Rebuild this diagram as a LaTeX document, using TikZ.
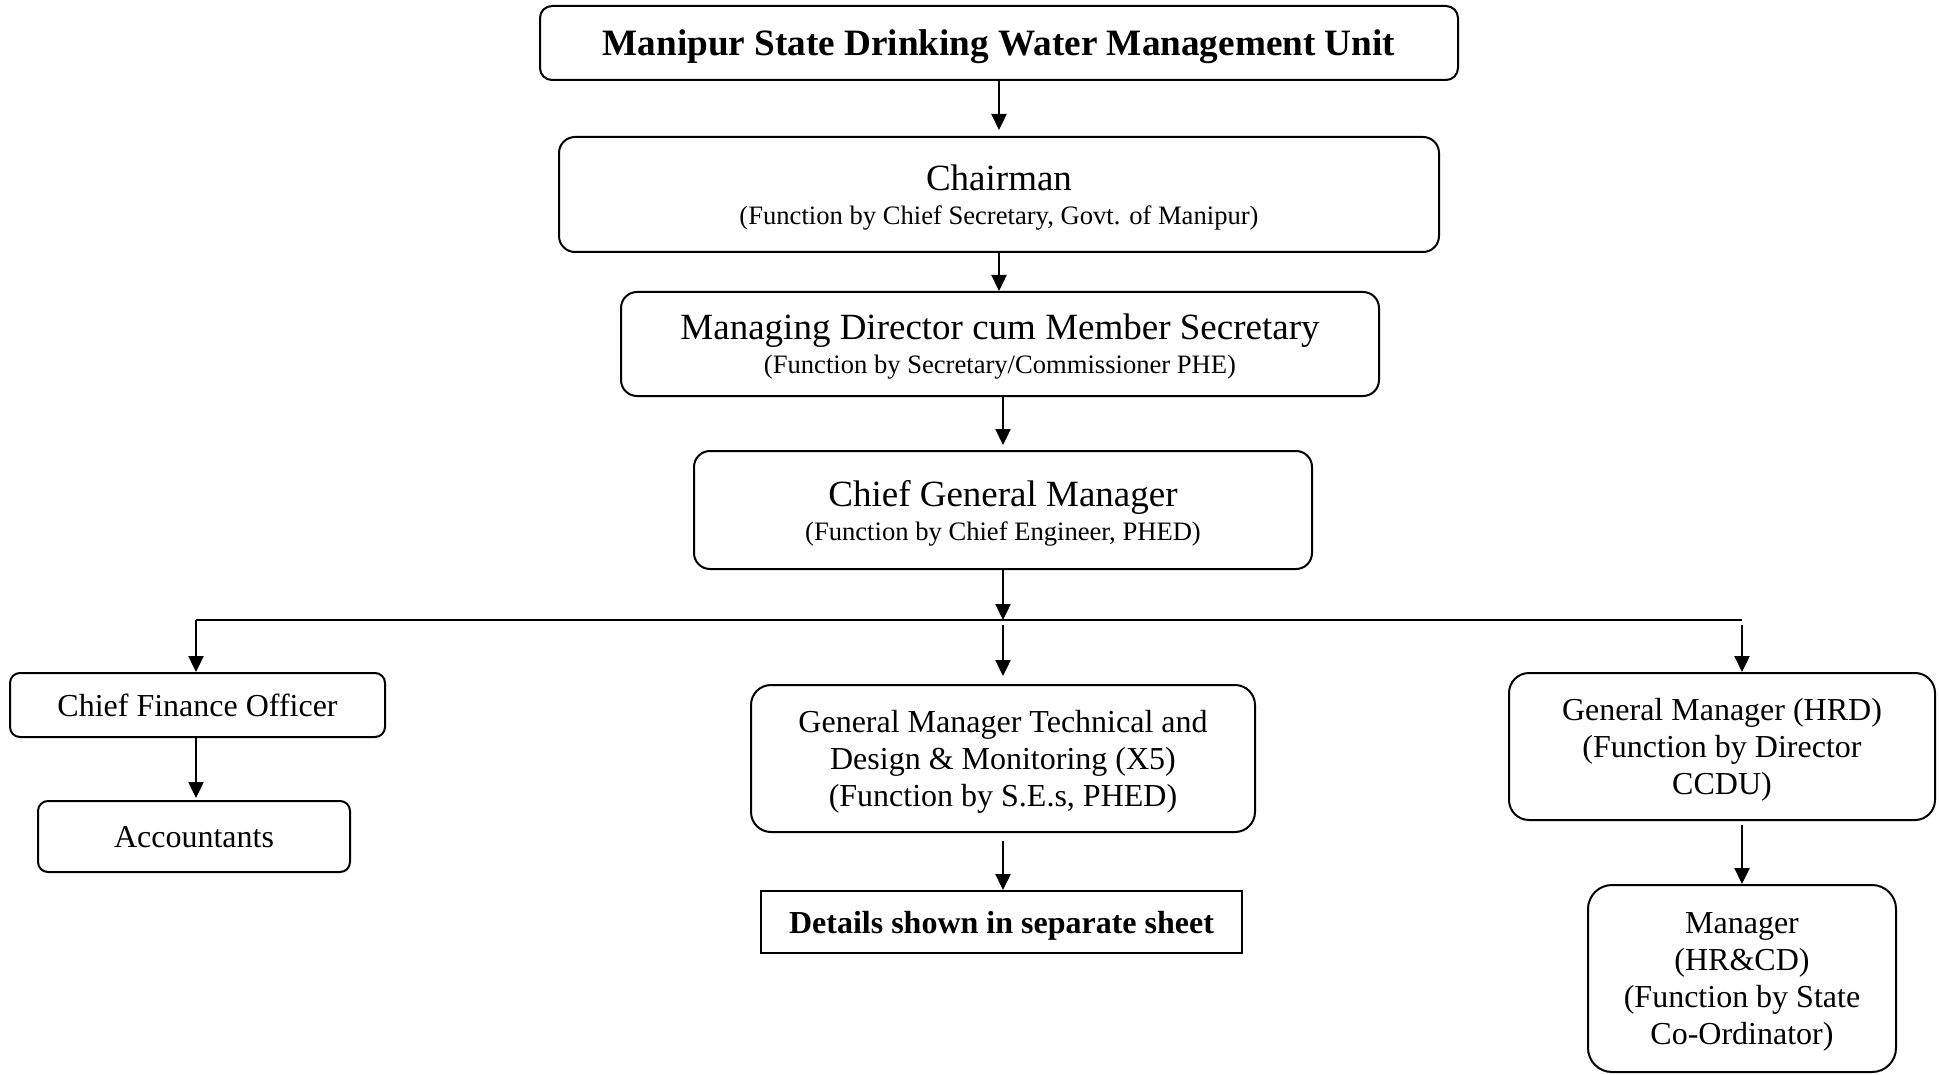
\documentclass[tikz,border=0pt]{standalone}
\usepackage{fontspec}
\setmainfont{Liberation Serif}
\usetikzlibrary{arrows.meta}
\begin{document}
\begin{tikzpicture}[x=0.5pt,y=-0.5pt,
  box/.style={draw, line width=1pt, rounded corners=#1, inner sep=0pt, align=center, text depth=0pt},
  box/.default=8pt,
  big/.style={font=\fontsize{13.3}{17}\selectfont},
  small/.style={font=\fontsize{16}{18.5}\selectfont},
  arr/.style={line width=1.2pt, -{Triangle[length=8pt,width=7.5pt]}},
  ln/.style={line width=1.2pt}]
\useasboundingbox (0,0) rectangle (1939,1075);
\node[box=6pt, minimum width=459pt, minimum height=37pt, font=\fontsize{18.6}{20}\selectfont\bfseries] (top) at (999,43) {Manipur State Drinking Water Management Unit};
\node[box, big, minimum width=440pt, minimum height=57.5pt] (chair) at (999,194.5) {{\fontsize{18.5}{20}\selectfont Chairman}\\(Function by Chief Secretary, Govt. of Manipur)};
\node[box, big, minimum width=379pt, minimum height=52pt] (md) at (1000,344) {{\fontsize{18.5}{20}\selectfont Managing Director cum Member Secretary}\\(Function by Secretary/Commissioner PHE)};
\node[box, big, minimum width=309pt, minimum height=59pt] (cgm) at (1003,510) {{\fontsize{18.5}{20}\selectfont Chief General Manager}\\(Function by Chief Engineer, PHED)};
\node[box=5pt, small, minimum width=187.5pt, minimum height=32pt] (cfo) at (197.5,705) {Chief Finance Officer};
\node[box=5pt, small, minimum width=156pt, minimum height=35.5pt] (acc) at (194,836.5) {Accountants};
\node[box=10pt, small, minimum width=252pt, minimum height=73.5pt] (gmt) at (1003,758.5) {General Manager Technical and\\Design \& Monitoring (X5)\\ (Function by S.E.s, PHED)};
\node[draw, line width=1pt, inner sep=0pt, text depth=0pt, minimum width=240.5pt, minimum height=31pt, font=\fontsize{16}{18.5}\selectfont\bfseries] (det) at (1001.5,922) {Details shown in separate sheet};
\node[box=10pt, small, minimum width=213pt, minimum height=73.5pt] (hrd) at (1722,746.5) {General Manager (HRD)\\(Function by Director\\CCDU)};
\node[box=12pt, small, minimum width=154pt, minimum height=93.5pt] (mgr) at (1742,978.5) {Manager\\(HR\&CD)\\(Function by State\\Co-Ordinator)};
\coordinate (jL) at (196,620);
\coordinate (jM) at (1003,620);
\coordinate (jR) at (1742,620);
\draw[arr, shorten >=3pt] (top.south) -- (top.south |- chair.north);
\draw[arr] (chair.south) -- (chair.south |- md.north);
\draw[arr, shorten >=2.5pt] (md.south -| cgm.north) -- (cgm.north);
\draw[arr] (cgm.south) -- (jM);
\draw[ln] (jL) -- (jR);
\draw[arr] (jL) -- (jL |- cfo.north);
\draw[arr, shorten <=2.5pt, shorten >=4pt] (jM) -- (gmt.north);
\draw[arr, shorten <=2.5pt] (jR) -- (jR |- hrd.north);
\draw[arr, shorten >=1pt] (jL |- cfo.south) -- (jL |- acc.north);
\draw[arr, shorten <=4pt] (gmt.south) -- (gmt.south |- det.north);
\draw[arr, shorten <=2pt] (hrd.south -| mgr.north) -- (mgr.north);
\end{tikzpicture}
\end{document}
